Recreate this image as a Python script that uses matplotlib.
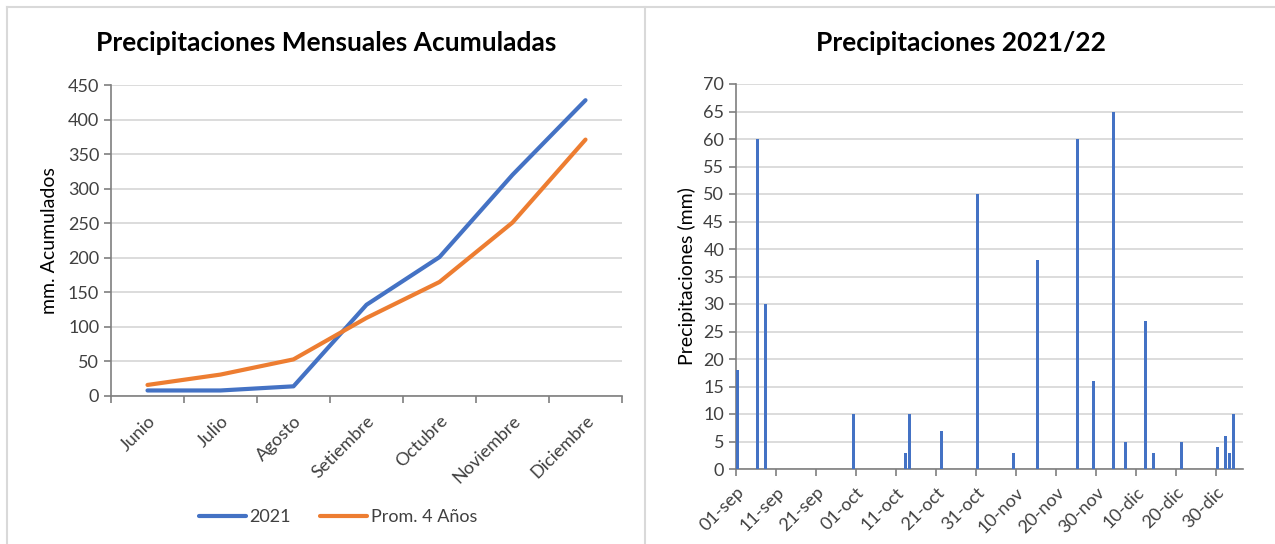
import matplotlib
matplotlib.use('Agg')
import matplotlib.pyplot as plt
from matplotlib.lines import Line2D
import pandas as pd

# Accumulated monthly rainfall (mm)
months = ['Junio', 'Julio', 'Agosto', 'Setiembre', 'Octubre', 'Noviembre', 'Diciembre']
acum_2021 = [8, 8, 14, 132, 201, 320, 428]
acum_prom4 = [16, 31, 53, 113, 165, 251, 371]

# Daily rainfall events, season 2021/22 (mm)
rain_dates = ['2021-09-01', '2021-09-06', '2021-09-08', '2021-09-30', '2021-10-13',
              '2021-10-14', '2021-10-22', '2021-10-31', '2021-11-09', '2021-11-15',
              '2021-11-25', '2021-11-29', '2021-12-04', '2021-12-07', '2021-12-12',
              '2021-12-14', '2021-12-21', '2021-12-30', '2022-01-01', '2022-01-02',
              '2022-01-03']
rain_mm = [18, 60, 30, 10, 3, 10, 7, 50, 3, 38, 60, 16, 65, 5, 27, 3, 5, 4, 6, 3, 10]

tick_dates = ['2021-09-01', '2021-09-11', '2021-09-21', '2021-10-01', '2021-10-11',
              '2021-10-21', '2021-10-31', '2021-11-10', '2021-11-20', '2021-11-30',
              '2021-12-10', '2021-12-20', '2021-12-30']
tick_labels = ['01-sep', '11-sep', '21-sep', '01-oct', '11-oct', '21-oct', '31-oct',
               '10-nov', '20-nov', '30-nov', '10-dic', '20-dic', '30-dic']

BLUE = '#4472C4'
ORANGE = '#ED7D31'
GRID = '#D9D9D9'
TXT = '#404040'

plt.rcParams['font.family'] = ['Lato', 'DejaVu Sans']

W, H = 1275, 544
fig = plt.figure(figsize=(W / 100, H / 100), dpi=100)


def fx(px):
    return px / W


def fy(py):
    return 1 - py / H


# chart area borders
fig.add_artist(Line2D([fx(7), 1], [fy(7), fy(7)], color=GRID, lw=1.5))
fig.add_artist(Line2D([fx(7), fx(7)], [fy(7), 0], color=GRID, lw=1.5))
fig.add_artist(Line2D([fx(645), fx(645)], [fy(7), 0], color=GRID, lw=1.5))


def style_axes(ax):
    ax.set_facecolor('white')
    for s in ['top', 'right']:
        ax.spines[s].set_visible(False)
    for s in ['left', 'bottom']:
        ax.spines[s].set_color('#7F7F7F')
        ax.spines[s].set_linewidth(1.2)
    ax.grid(axis='y', color=GRID, linewidth=1.3)
    ax.set_axisbelow(True)
    ax.tick_params(axis='both', colors='#7F7F7F', labelcolor=TXT, labelsize=13,
                   length=5, width=1.2)


# --- left: accumulated rainfall ---
ax1 = fig.add_axes([fx(111), fy(396), fx(622 - 111), (396 - 85) / H])
style_axes(ax1)
x = range(len(months))
ax1.plot(x, acum_2021, color=BLUE, lw=3, solid_capstyle='round', label='2021', zorder=3)
ax1.plot(x, acum_prom4, color=ORANGE, lw=3, solid_capstyle='round', label='Prom. 4 Años', zorder=3)
ax1.set_xlim(-0.5, len(months) - 0.5)
ax1.set_ylim(0, 450)
ax1.set_yticks(range(0, 451, 50))
ax1.set_xticks([i - 0.5 for i in range(len(months) + 1)])
ax1.set_xticklabels([])
ax1.set_xticks(list(x), minor=True)
ax1.set_xticklabels(months, minor=True, rotation=45, ha='right', va='top',
                    rotation_mode='anchor')
ax1.tick_params(axis='x', which='minor', length=0, pad=12, labelsize=13, labelcolor=TXT)
ax1.set_ylabel('mm. Acumulados', fontsize=14, color='black', labelpad=7)
fig.text(fx(326), fy(43), 'Precipitaciones Mensuales Acumuladas', ha='center', va='center',
         fontsize=19, fontweight='bold', color='black')
fig.legend(handles=ax1.get_lines(), loc='center', bbox_to_anchor=(fx(338), fy(517)),
           ncol=2, frameon=False, fontsize=13, handlelength=2.6, handletextpad=0.2,
           columnspacing=1.6, labelcolor=TXT)

# --- right: daily rainfall ---
ax2 = fig.add_axes([fx(736), fy(469), fx(1243 - 736), (469 - 84) / H])
style_axes(ax2)
start = pd.Timestamp('2021-09-01')
bar_x = pd.to_datetime(rain_dates) + pd.Timedelta(hours=10)
ax2.bar(bar_x, rain_mm, width=0.6, color=BLUE, zorder=3)
ax2.set_xlim(start, start + pd.Timedelta(days=126.75))
ax2.set_ylim(0, 70)
ax2.set_yticks(range(0, 71, 5))
ax2.set_xticks(pd.to_datetime(tick_dates))
ax2.set_xticklabels(tick_labels, rotation=45, ha='right', va='top', rotation_mode='anchor')
ax2.tick_params(axis='x', pad=6)
ax2.set_ylabel('Precipitaciones (mm)', fontsize=14, color='black', labelpad=5)
fig.text(fx(961), fy(43), 'Precipitaciones 2021/22', ha='center', va='center',
         fontsize=19, fontweight='bold', color='black')

fig.savefig('out.png', dpi=100, facecolor='white')
